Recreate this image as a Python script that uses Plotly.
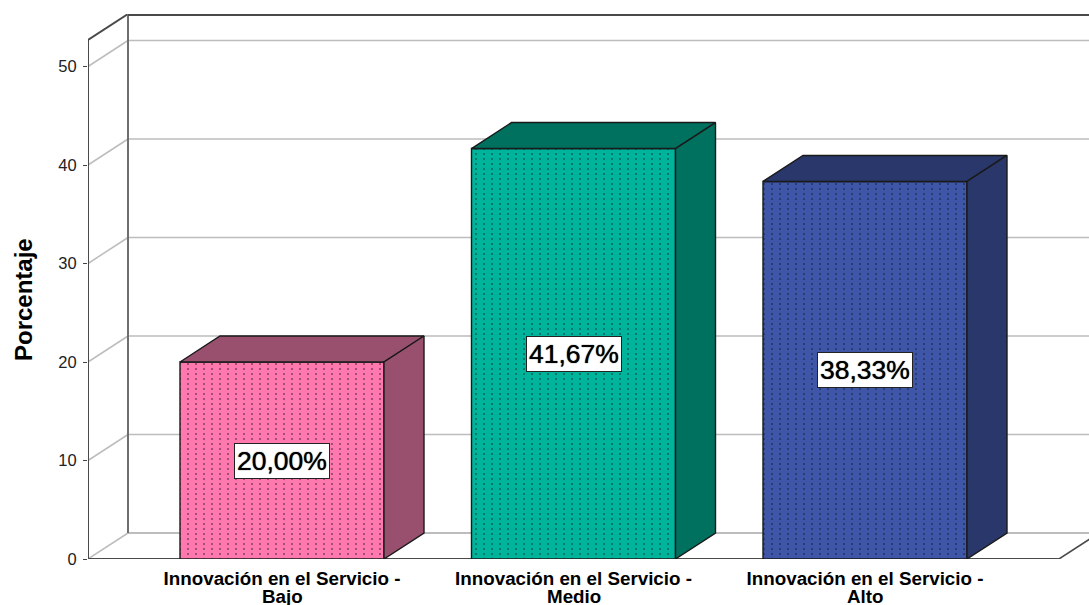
import plotly.graph_objects as go

first_lines = ["Innovación en el Servicio -", "Innovación en el Servicio -", "Innovación en el Servicio -"]
second_lines = ["Bajo", "Medio", "Alto"]
values = [20.00, 41.67, 38.33]
labels = ["20,00%", "41,67%", "38,33%"]
front_colors = ["#FF78AE", "#00B39B", "#3F56A8"]
side_colors = ["#99506E", "#00705F", "#29376B"]
dot_colors = ["#6E3850", "#005A4D", "#1F2B57"]
y_ticks = [0, 10, 20, 30, 40, 50]

W, H = 1089, 605
ML, MT, MB = 88, 14, 46
PW, PH = W - ML, H - MT - MB
PX_PER_X = 291.5
PX_PER_Y = 9.85
X_LEFT = -(282 - 88) / PX_PER_X
X_RIGHT = X_LEFT + PW / PX_PER_X
Y_TOP = PH / PX_PER_Y
DX = 40 / PX_PER_X
DY = 26 / PX_PER_Y
BAR_W = 204 / PX_PER_X
X_FLOOR_END = X_LEFT + (1059 - 88) / PX_PER_X
WALL = "#4A4A4A"
GRID = "#BDBDBD"
CLEAR = "rgba(0,0,0,0)"

shapes = []
def seg(x0, y0, x1, y1, color, w=1.5):
    shapes.append(dict(type="line", xref="x", yref="y", x0=x0, y0=y0, x1=x1, y1=y1,
                       line=dict(color=color, width=w), layer="below"))

for t in y_ticks[1:]:
    seg(X_LEFT, t, X_LEFT + DX, t + DY, GRID)
    seg(X_LEFT + DX, t + DY, X_RIGHT + 1, t + DY, GRID)
seg(X_LEFT, 0, X_LEFT + DX, DY, GRID)
seg(X_LEFT + DX, DY, X_RIGHT + 1, DY, GRID, 2)
seg(X_FLOOR_END, 0, X_FLOOR_END + DX, DY, WALL)
seg(X_LEFT, 0, X_LEFT, Y_TOP - DY, WALL, 2)
seg(X_LEFT, Y_TOP - DY, X_LEFT + DX, Y_TOP, WALL, 2)
seg(X_LEFT + DX, DY, X_LEFT + DX, Y_TOP, "#6E6E6E", 2)
seg(X_LEFT + DX, Y_TOP - 0.1, X_RIGHT + 1, Y_TOP - 0.1, WALL, 2)
seg(X_LEFT, 0, X_FLOOR_END, 0, WALL, 2)

fig = go.Figure()
for i, v in enumerate(values):
    xl, xr = i - BAR_W / 2, i + BAR_W / 2
    fig.add_trace(go.Scatter(
        x=[xl, xl + DX, xr + DX, xr, xl], y=[v, v + DY, v + DY, v, v],
        mode="lines", fill="toself", fillcolor=side_colors[i],
        line=dict(color="#1A1A1A", width=1.4), hoverinfo="skip", showlegend=False))
    fig.add_trace(go.Scatter(
        x=[xr, xr + DX, xr + DX, xr, xr], y=[0, DY, v + DY, v, 0],
        mode="lines", fill="toself", fillcolor=side_colors[i],
        line=dict(color="#1A1A1A", width=1.4), hoverinfo="skip", showlegend=False))
    # front face: vertical hairlines, cut into dots by stripes of the face colour, then the outline
    fig.add_trace(go.Bar(
        x=[i], y=[v], width=BAR_W, showlegend=False,
        marker=dict(color=front_colors[i], line=dict(width=0),
                    pattern=dict(shape="|", size=8, solidity=0.17, fgcolor=dot_colors[i], fgopacity=1,
                                 bgcolor=front_colors[i], fillmode="overlay"))))
    fig.add_trace(go.Bar(
        x=[i], y=[v], width=BAR_W, showlegend=False, hoverinfo="skip",
        marker=dict(color=CLEAR, line=dict(width=0),
                    pattern=dict(shape="-", size=5, solidity=0.62, fgcolor=front_colors[i], fgopacity=1,
                                 bgcolor=CLEAR, fillmode="overlay"))))
    fig.add_trace(go.Bar(
        x=[i], y=[v], width=BAR_W, showlegend=False, hoverinfo="skip",
        marker=dict(color=CLEAR, line=dict(color="#1A1A1A", width=1.4))))

annotations = [dict(x=i, y=v / 2, xref="x", yref="y", text=labels[i], showarrow=False,
                    font=dict(family="Liberation Sans", size=26.5, color="black", shadow="0 0 1px #000"),
                    bgcolor="white", bordercolor="#222222", borderwidth=1, borderpad=2)
               for i, v in enumerate(values)]
annotations.append(dict(x=(23 - 88) / PW, y=1 - (300 - 14) / PH, xref="paper", yref="paper",
                        xanchor="center", yanchor="middle",
                        text="<b>Porcentaje</b>", showarrow=False, textangle=-90,
                        font=dict(family="Liberation Sans", size=24, color="black")))
for i, t in enumerate(second_lines):
    annotations.append(dict(x=i, y=0, xref="x", yref="paper", yanchor="top", yshift=-25, text="<b>" + t + "</b>",
                            showarrow=False, font=dict(family="Liberation Sans", size=18.8, color="black")))

fig.update_layout(
    width=W, height=H, autosize=False, paper_bgcolor="white", plot_bgcolor="white", barmode="overlay",
    margin=dict(l=ML, r=0, t=MT, b=MB, pad=0), shapes=shapes, annotations=annotations,
    xaxis=dict(range=[X_LEFT, X_RIGHT], tickvals=[0, 1, 2], ticktext=first_lines, showgrid=False,
               zeroline=False, showline=False, ticks="", ticklabelstandoff=6,
               tickfont=dict(family="Liberation Sans", size=18.8, color="black", weight="bold")),
    yaxis=dict(range=[0, Y_TOP], tickvals=y_ticks, showgrid=False, zeroline=False, showline=False,
               ticks="outside", ticklen=4, tickcolor="#444444", ticklabelstandoff=3,
               tickfont=dict(family="Liberation Sans", size=16.5, color="#222222")),
)
fig.write_html("out.html", config={"displayModeBar": False},
               post_script="document.body.style.margin='0';document.documentElement.style.overflow='hidden';")
